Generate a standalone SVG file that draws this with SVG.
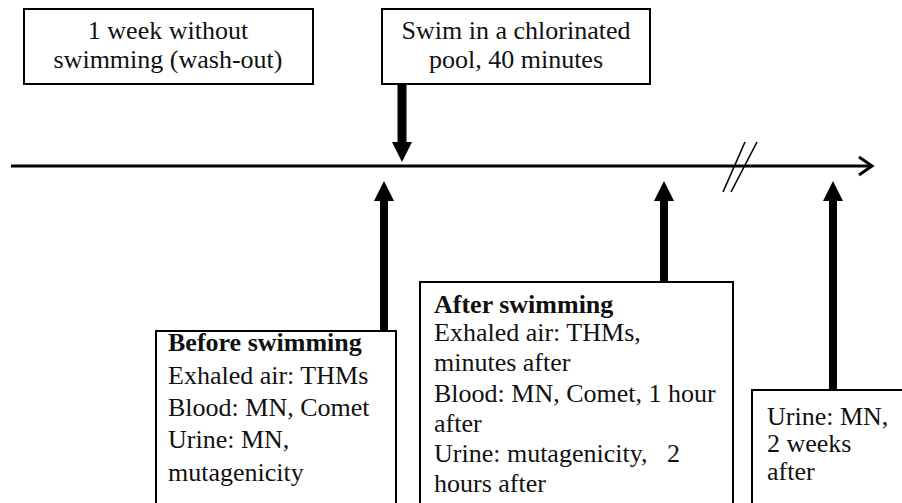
<svg xmlns="http://www.w3.org/2000/svg" width="902" height="503" viewBox="0 0 902 503">
<style>
.box{fill:#fff;stroke:#000;stroke-width:2}
text{font-family:'Liberation Serif','Tinos','Times New Roman','DejaVu Serif',serif;font-size:26px;fill:#111}
.c{text-anchor:middle}
.b{font-weight:bold}
.ln{stroke:#000;fill:none}
.ar{fill:#000;stroke:none}
</style>
<rect width="902" height="503" fill="#fff"/>
<g id="connectors">
<line class="ln" x1="11" y1="166" x2="871" y2="166" stroke-width="3"/>
<polyline class="ln" points="859,157 872,166 859,175" stroke-width="3" stroke-linejoin="miter"/>
<line class="ln" x1="723" y1="192" x2="745" y2="142" stroke-width="1.6"/>
<line class="ln" x1="731" y1="192" x2="757" y2="142" stroke-width="1.6"/>
<path class="ar" d="M397.5,84 H406.5 V142 H412 L402,162 L392,142 H397.5 Z"/>
<path class="ar" d="M380,331 V201 H374 L384,181 L394,201 H388 V331 Z"/>
<path class="ar" d="M660,282 V201 H654 L664,181 L674,201 H668 V282 Z"/>
<path class="ar" d="M829,390 V201 H823 L833,181 L843,201 H837 V390 Z"/>
</g>
<g id="washout" font-family="Liberation Serif, serif">
<rect class="box" x="24" y="9" width="289" height="75"/>
<text class="c" x="168" y="39">1 week without</text>
<text class="c" x="168" y="68">swimming (wash-out)</text>
</g>
<g id="swim" font-family="Liberation Serif, serif">
<rect class="box" x="382" y="9" width="268" height="75"/>
<text class="c" x="516" y="39">Swim in a chlorinated</text>
<text class="c" x="516" y="68">pool, 40 minutes</text>
</g>
<g id="before" font-family="Liberation Serif, serif">
<rect class="box" x="156" y="331" width="240" height="200"/>
<text class="b" x="168" y="351">Before swimming</text>
<text x="168" y="384">Exhaled air: THMs</text>
<text x="168" y="416">Blood: MN, Comet</text>
<text x="168" y="448">Urine: MN,</text>
<text x="168" y="481">mutagenicity</text>
</g>
<g id="after" font-family="Liberation Serif, serif">
<rect class="box" x="420" y="282" width="313" height="250"/>
<text class="b" x="434" y="313">After swimming</text>
<text x="434" y="341">Exhaled air: THMs,</text>
<text x="434" y="371">minutes after</text>
<text x="434" y="402">Blood: MN, Comet, 1 hour</text>
<text x="434" y="432">after</text>
<text x="434" y="462" xml:space="preserve">Urine: mutagenicity,   2</text>
<text x="434" y="492">hours after</text>
</g>
<g id="later" font-family="Liberation Serif, serif">
<rect class="box" x="752" y="390" width="170" height="140"/>
<text x="767" y="425">Urine: MN,</text>
<text x="767" y="452">2 weeks</text>
<text x="767" y="480">after</text>
</g>
</svg>
